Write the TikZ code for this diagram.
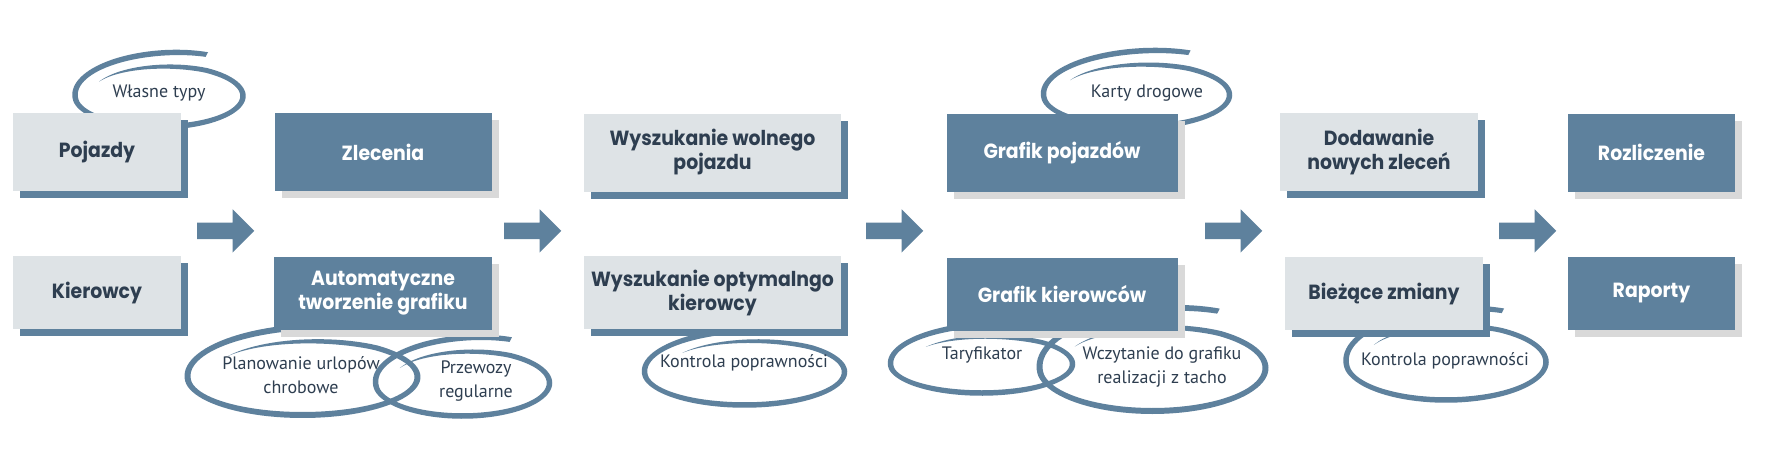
\documentclass[tikz,border=0pt]{standalone}
\usepackage{fontspec}
\usetikzlibrary{shadows}
\newfontfamily\titlefont{Poppins}[FakeStretch=0.92]
\newfontfamily\notefont{PT Sans}
\definecolor{blue1}{RGB}{94,129,157}
\definecolor{grey1}{RGB}{222,227,230}
\definecolor{grey2}{RGB}{217,217,217}
\definecolor{ink1}{RGB}{46,62,80}

\tikzset{
  declare function={
    brad(\u)=1-0.15*max(0,1-\u/0.2);
    bwid(\u,\w)=\w*sin(min(90,360*\u));
    blift(\u,\d)=\d*max(0,(\u-0.7)/0.3);
  },
  brush/.style={fill=blue1},
  box/.style={rectangle, inner sep=0pt, align=center,
    font=\titlefont\bfseries\fontsize{20.5}{24}\selectfont},
  lightbox/.style={box, fill=grey1, text=ink1,
    general shadow={fill=blue1, shadow xshift=7pt, shadow yshift=-7pt}},
  darkbox/.style={box, fill=blue1, text=white,
    general shadow={fill=grey2, shadow xshift=7pt, shadow yshift=-7pt}},
  toprow/.style={minimum height=78pt},
  botrow/.style={minimum height=73pt},
  note/.style={text=ink1, align=center, inner sep=0pt,
    font=\notefont\fontsize{18}{24}\selectfont}
}

% brush loop: cx, cy, a, b, start angle, sweep, lift, width
\newcommand{\brushloop}[8]{%
  \fill[brush] plot[domain=0:1, samples=120, variable=\u]
    ({#1+(#3*brad(\u)+bwid(\u,#8)/2)*cos(#5+(#6)*\u)},
     {#2-(#4*brad(\u)+bwid(\u,#8)/2)*sin(#5+(#6)*\u)-blift(\u,#7)})
    -- plot[domain=1:0, samples=120, variable=\u]
    ({#1+(#3*brad(\u)-bwid(\u,#8)/2)*cos(#5+(#6)*\u)},
     {#2-(#4*brad(\u)-bwid(\u,#8)/2)*sin(#5+(#6)*\u)-blift(\u,#7)})
    -- cycle;}

\begin{document}
\begin{tikzpicture}[x=1pt, y=-1pt]
  \fill[white] (0,0) rectangle (1772,453);
  % loops behind the boxes
  \brushloop{159}{96}{84}{31}{147}{-452}{16}{5.5}
  \brushloop{1136.5}{95}{93}{32}{147}{-452}{16}{5.5}
  \brushloop{302.5}{377}{115}{38}{140}{-445}{16}{6}
  \brushloop{462.5}{383}{87}{33}{148}{-452}{16}{5.5}
  \brushloop{744.5}{372}{100}{33}{137}{-440}{12}{5.5}
  \brushloop{981.5}{364}{91}{29}{136}{-440}{14}{5.5}
  \brushloop{1152.5}{368}{113}{43}{144}{-450}{22}{6}
  \brushloop{1446}{362}{100}{38}{148}{-453}{20}{5.5}

  \node[lightbox, toprow, minimum width=168pt] (pojazdy) at (97,152) {Pojazdy};
  \node[lightbox, botrow, minimum width=168pt] (kierowcy) at (97,292.5) {Kierowcy};
  \node[darkbox, toprow, minimum width=217pt] (zlecenia) at (383,152) {Zlecenia};
  \node[darkbox, botrow, minimum width=218pt] (auto) at (383,293.5) {Automatyczne\\tworzenie grafiku};
  \node[lightbox, toprow, minimum width=257pt] (wolny) at (712.5,152.5) {Wyszukanie wolnego\\pojazdu};
  \node[lightbox, botrow, minimum width=257pt] (optym) at (712.5,292.5) {Wyszukanie optymalngo\\kierowcy};
  \node[darkbox, toprow, minimum width=231pt] (grafpoj) at (1062,152.5) {Grafik pojazdów};
  \node[darkbox, botrow, minimum width=231pt] (grafkier) at (1062,294) {Grafik kierowców};
  \node[lightbox, toprow, minimum width=198pt] (dodaw) at (1379,152) {Dodawanie\\nowych zleceń};
  \node[lightbox, botrow, minimum width=198pt] (biez) at (1384,293.5) {Bieżące zmiany};
  \node[darkbox, toprow, minimum width=167pt] (rozl) at (1651.5,152.5) {Rozliczenie};
  \node[darkbox, botrow, minimum width=167pt] (rap) at (1651.5,293.5) {Raporty};

  \node[note] (typy) at (159,93) {Własne typy};
  \node[note] (karty) at (1147,93) {Karty drogowe};
  \node[note] (urlopy) at (301,375) {Planowanie urlopów\\chrobowe};
  \node[note] (przew) at (476,381) {Przewozy\\regularne};
  \node[note] (kontr1) at (744,363) {Kontrola poprawności};
  \node[note] (taryf) at (982,355) {Taryfikator};
  \node[note] (tacho) at (1162,367.5) {Wczytanie do grafiku\\realizacji z tacho};
  \node[note] (kontr2) at (1445,361) {Kontrola poprawności};

  % block arrows between the columns
  \foreach \ax in {197,504,866,1205,1499}
    \fill[blue1] (\ax,222.7) -- ++(35.6,0) -- ++(0,-13.4) -- ++(21.7,21.6)
      -- ++(-21.7,21.6) -- ++(0,-13.4) -- ++(-35.6,0) -- cycle;
\end{tikzpicture}
\end{document}
